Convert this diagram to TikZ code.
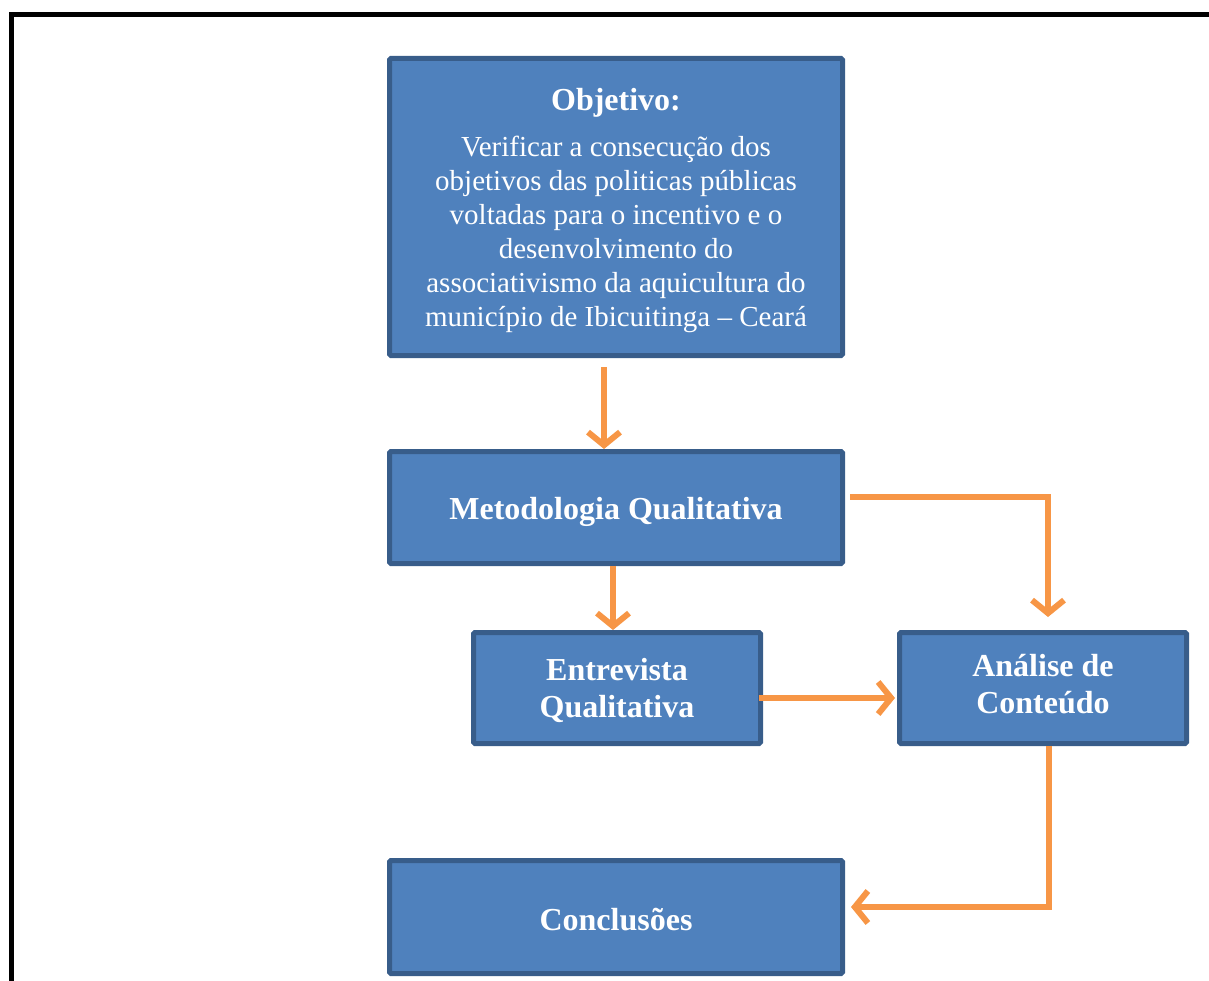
\documentclass[tikz,border=0pt]{standalone}
\usepackage{fontspec}
\setmainfont{Liberation Serif}
\usetikzlibrary{arrows.meta}
\definecolor{boxfill}{HTML}{4F81BD}
\definecolor{boxline}{HTML}{385D8A}
\definecolor{arrorange}{HTML}{F79646}
\tikzset{
  bluebox/.style={draw=boxline, fill=boxfill, line width=5pt, rounded corners=1.5pt,
    inner sep=0pt},
  boxtxt/.style={text=white, align=center, inner sep=0pt},
  arr/.style={draw=arrorange, line width=6pt,
    -{Straight Barb[length=13pt,width=32pt]}},
  bigtxt/.style={font=\bfseries\fontsize{32}{37}\selectfont},
}
\begin{document}
\begin{tikzpicture}[x=1pt,y=-1pt]
\useasboundingbox (0,0) rectangle (1209,981);
% frame
\draw[line width=5pt] (11.5,981) -- (11.5,14.5) -- (1209,14.5);

\node[bluebox, minimum width=453pt, minimum height=297pt] (obj) at (616,207) {};
\node[boxtxt, font=\fontsize{29}{34}\selectfont] (objtxt) at ([yshift=-4pt]obj.center)
  {\bfseries\fontsize{32}{34}\selectfont Objetivo:\\[12pt]
   \mdseries\fontsize{29}{34}\selectfont Verificar a consecução dos\\
    objetivos das politicas públicas\\
    voltadas para o incentivo e o\\
    desenvolvimento do\\
    associativismo da aquicultura do\\
    município de Ibicuitinga -- Ceará};

\node[bluebox, minimum width=453pt, minimum height=112pt] (met) at (616,507.5) {};
\node[boxtxt, bigtxt] (mettxt) at ([yshift=-4pt]met.center) {Metodologia Qualitativa};

\node[bluebox, minimum width=287pt, minimum height=111pt] (ent) at (617,688) {};
\node[boxtxt, bigtxt] (enttxt) at ([yshift=-2pt]ent.center) {Entrevista\\Qualitativa};

\node[bluebox, minimum width=287pt, minimum height=111pt] (ana) at (1043,688) {};
\node[boxtxt, bigtxt] (anatxt) at ([yshift=4pt]ana.center) {Análise de\\Conteúdo};

\node[bluebox, minimum width=453pt, minimum height=113pt] (con) at (616,917) {};
\node[boxtxt, bigtxt] (contxt) at ([yshift=-3pt]con.center) {Conclusões};

% connectors
\draw[arr] ([shift={(-12pt,-9pt)}]obj.south) -- ([xshift=-12pt]met.north);
\draw[arr] ([xshift=-3pt]met.south) -- ([xshift=-3pt]met.south |- ent.north);
\draw[arr] ([shift={(5pt,10.5pt)}]met.east) -| ([shift={(5pt,13pt)}]ana.north);
\draw[arr] ([shift={(-4pt,-10pt)}]ent.east) -- ([shift={(-2pt,-10pt)}]ana.west);
\draw[arr] ([xshift=6pt]ana.south) |- ([shift={(6pt,10pt)}]con.east);
\end{tikzpicture}
\end{document}
